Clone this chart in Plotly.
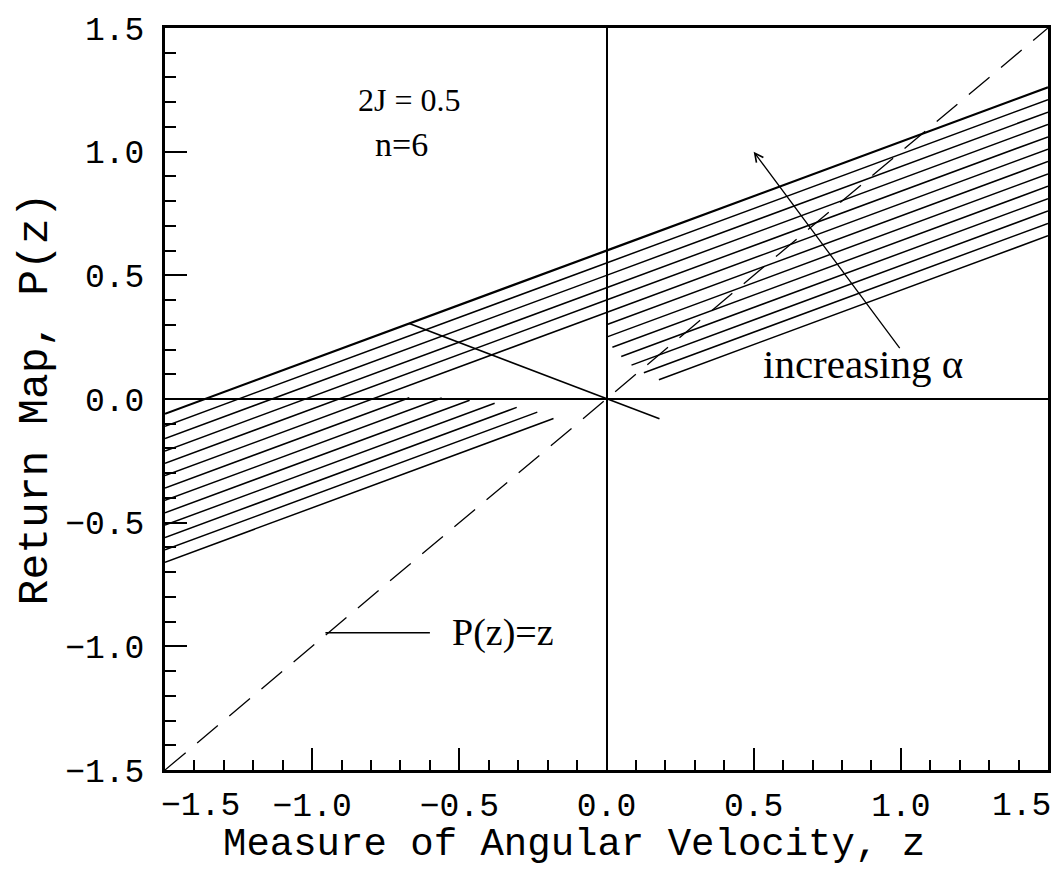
import plotly.graph_objects as go

# ---- data ----
# family of parallel return-map lines (one per alpha value), split at the discontinuity z=0
left_start_z = [-1.5] * 13
left_start_P = [-0.06, -0.11, -0.16, -0.21, -0.26, -0.31, -0.36, -0.41, -0.46, -0.51, -0.56, -0.61, -0.66]
left_end_z = [0.0, 0.0, 0.0, 0.0, 0.0, 0.0, -0.67, -0.56, -0.465, -0.38, -0.305, -0.235, -0.18]
left_end_P = [0.60, 0.55, 0.50, 0.45, 0.40, 0.35, 0.005, 0.004, -0.005, -0.017, -0.034, -0.053, -0.079]

right_start_z = [0.0, 0.0, 0.0, 0.0, 0.0, 0.0, 0.0, 0.0, 0.02, 0.05, 0.085, 0.127, 0.178]
right_start_P = [0.60, 0.55, 0.50, 0.45, 0.40, 0.35, 0.30, 0.25, 0.209, 0.172, 0.137, 0.106, 0.078]
right_end_z = [1.5] * 13
right_end_P = [1.26, 1.21, 1.16, 1.11, 1.06, 1.01, 0.96, 0.91, 0.86, 0.81, 0.76, 0.71, 0.66]

# slanted boundary line
bound_z = [-0.67, 0.18]
bound_P = [0.305, -0.08]

# identity line P(z)=z
ident_z = [-1.5, 1.5]
ident_P = [-1.5, 1.5]

# pointer to identity label
pointer_z = [-0.955, -0.6]
pointer_P = [-0.945, -0.945]

x_tickvals = [-1.0, -0.5, 0.0, 0.5, 1.0]
x_ticktext = ["\u22121.0", "\u22120.5", "0.0", "0.5", "1.0"]
y_tickvals = [-1.5, -1.0, -0.5, 0.0, 0.5, 1.0, 1.5]
y_ticktext = ["\u22121.5", "\u22121.0", "\u22120.5", "0.0", "0.5", "1.0", "1.5"]

x_title = "Measure of Angular Velocity, z"
y_title = "Return Map, P(z)"

TICKFONT = dict(family="Liberation Mono", size=33, color="black")
TITLEFONT = dict(family="Liberation Mono", size=39, color="black")
SERIF = "Liberation Serif"

fig = go.Figure()

# identity dashed line
fig.add_trace(go.Scatter(x=ident_z, y=ident_P, mode="lines",
                         line=dict(color="black", width=1.3, dash="27px,15px"),
                         showlegend=False, hoverinfo="skip"))

for i in range(len(left_start_P)):
    w = 2.2 if i == 0 else 1.5
    fig.add_trace(go.Scatter(x=[left_start_z[i], left_end_z[i]], y=[left_start_P[i], left_end_P[i]],
                             mode="lines", line=dict(color="black", width=w),
                             showlegend=False, hoverinfo="skip"))
    fig.add_trace(go.Scatter(x=[right_start_z[i], right_end_z[i]], y=[right_start_P[i], right_end_P[i]],
                             mode="lines", line=dict(color="black", width=w),
                             showlegend=False, hoverinfo="skip"))

fig.add_trace(go.Scatter(x=bound_z, y=bound_P, mode="lines", line=dict(color="black", width=1.5),
                         showlegend=False, hoverinfo="skip"))
fig.add_trace(go.Scatter(x=pointer_z, y=pointer_P, mode="lines", line=dict(color="black", width=1.3),
                         showlegend=False, hoverinfo="skip"))

annotations = [
    dict(x=-0.67, y=1.21, text="2J = 0.5", showarrow=False, xref="x", yref="y",
         font=dict(family=SERIF, size=32, color="black")),
    dict(x=-0.695, y=1.03, text="n=6", showarrow=False, xref="x", yref="y",
         font=dict(family=SERIF, size=34, color="black")),
    dict(x=-0.35, y=-0.945, text="P(z)=z", showarrow=False, xref="x", yref="y",
         font=dict(family=SERIF, size=38, color="black")),
    dict(x=0.87, y=0.14, text="increasing \u03b1", showarrow=False, xref="x", yref="y",
         font=dict(family=SERIF, size=41, color="black")),
    dict(x=0.5, y=1.0, ax=1.0, ay=0.2, xref="x", yref="y", axref="x", ayref="y",
         text="", showarrow=True, arrowhead=5, arrowsize=1.3, arrowwidth=1.3, arrowcolor="black"),
    dict(x=-1.5, y=0, xref="x", yref="paper", text="\u22121.5", showarrow=False,
         xanchor="left", yanchor="top", xshift=-6, yshift=-16, font=TICKFONT),
    dict(x=1.5, y=0, xref="x", yref="paper", text="1.5", showarrow=False,
         xanchor="right", yanchor="top", xshift=5, yshift=-16, font=TICKFONT),
    # x-axis title, placed slightly left of centre as in the reference
    dict(x=0.463, y=-0.101, xref="paper", yref="paper", text=x_title, showarrow=False,
         xanchor="center", yanchor="middle", font=TITLEFONT),
]

# the page body adds an 8px margin, so the figure is sized to fit inside the window
fig.update_layout(
    width=1048, height=858,
    margin=dict(l=157, r=8, t=20, b=96),
    paper_bgcolor="white", plot_bgcolor="white",
    showlegend=False,
    annotations=annotations,
)

fig.update_xaxes(
    range=[-1.5, 1.5], showgrid=False,
    zeroline=True, zerolinecolor="black", zerolinewidth=1.5,
    showline=True, mirror=True, linecolor="black", linewidth=3,
    ticks="inside", ticklen=22, tickwidth=1.5, tickcolor="black",
    tickvals=x_tickvals, ticktext=x_ticktext, tickfont=TICKFONT,
    minor=dict(dtick=0.1, tick0=0, ticks="inside", ticklen=10, tickwidth=1.5, tickcolor="black", showgrid=False),
    ticklabelstandoff=3,
    automargin=False,
)
fig.update_yaxes(
    range=[-1.5, 1.5], showgrid=False,
    zeroline=True, zerolinecolor="black", zerolinewidth=1.5,
    showline=True, mirror=True, linecolor="black", linewidth=3,
    ticks="inside", ticklen=22, tickwidth=1.5, tickcolor="black",
    tickvals=y_tickvals, ticktext=y_ticktext, tickfont=TICKFONT,
    minor=dict(dtick=0.1, tick0=0, ticks="inside", ticklen=11, tickwidth=1.5, tickcolor="black", showgrid=False),
    ticklabelstandoff=11,
    title=dict(text=y_title, font=dict(family="Liberation Mono", size=43, color="black"), standoff=5),
    automargin=False,
)

fig.write_html("out.html")
